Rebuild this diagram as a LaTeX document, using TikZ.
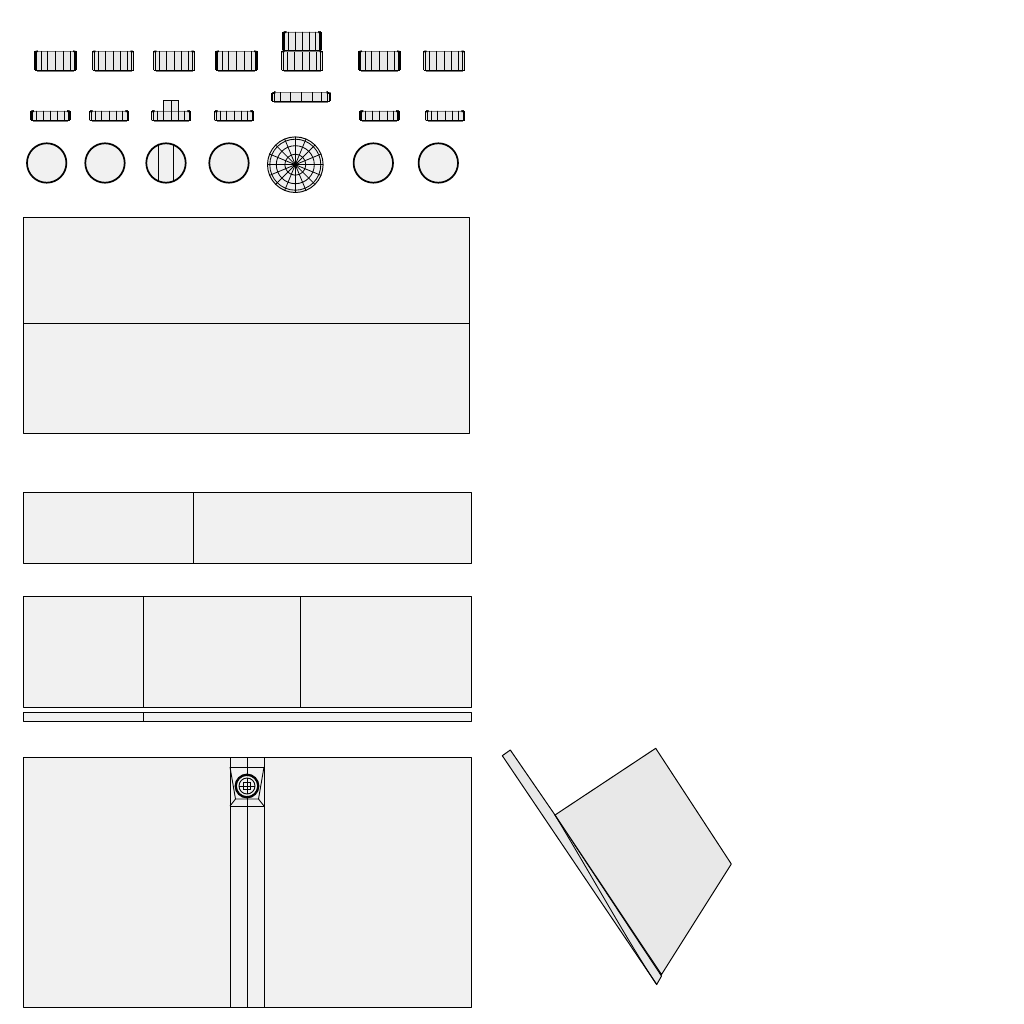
\documentclass[tikz,border=0pt]{standalone}
\usetikzlibrary{calc}
\definecolor{panelfill}{HTML}{F1F1F1}
\definecolor{knobfill}{HTML}{E8E8E8}
\tikzset{
  panel/.style={draw=black,fill=panelfill,line width=0.9pt,line join=round},
  edgeline/.style={draw=black,line width=0.9pt},
  plate/.style={draw=black,fill=knobfill,line width=1pt,line join=round},
  rib/.style={draw=black,line width=0.95pt},
  rim/.style={draw=black,line width=1.7pt},
  capline/.style={draw=black!55,line width=1.1pt},
}
% knob seen from the side: centre x, top y, bottom y, half width
\newcommand{\sideknob}[4]{%
  \fill[knobfill,rounded corners=0.8pt] (#1-#4,#2) rectangle (#1+#4,#3);
  \draw[capline] (#1-#4+2,#2+0.2) -- (#1+#4-2,#2+0.2);
  \draw[capline] (#1-#4+2,#3+0.4) -- (#1+#4-2,#3+0.4);
  \foreach \s in {-0.924,-0.707,-0.383,0,0.383,0.707,0.924}
    \draw[rib] ({#1+\s*#4},#2) -- ({#1+\s*#4},#3);
  \draw[rim] (#1-#4,#2+0.5) -- (#1-#4,#3-0.5);
  \draw[rim] (#1+#4,#2+0.5) -- (#1+#4,#3-0.5);
  \draw[rim] (#1-#4+0.6,#2+0.5) -- (#1-#4+3,#2+0.3);
  \draw[rim] (#1+#4-0.6,#2+0.5) -- (#1+#4-3,#2+0.3);
  \draw[line width=1.2pt,black] (#1-#4,#3-0.2) -- (#1+#4,#3-0.2);
}
% knob seen from above: centre x, centre y, radius
\newcommand{\faceknob}[3]{%
  \fill[panelfill] (#1,#2) circle (#3);
  \draw[draw=black,line width=1.7pt] (#1,#2) circle ({#3-0.6});
}
\begin{document}
\begin{tikzpicture}[x=1pt,y=-1pt]
\useasboundingbox (0,0) rectangle (1024,1024);
% top row of knobs
\foreach \c in {55.5,113,174,236.5,302,379.5,444}
  \sideknob{\c}{51}{71}{20.5}
\sideknob{302.3}{32}{51}{19}
% middle row
\foreach \c in {50.5,109,171,234,379.7,445}
  \sideknob{\c}{111}{120.6}{19.5}
\sideknob{301}{92.5}{101.8}{28.7}
\fill[knobfill] (163.7,100.7) rectangle (178.7,111);
\draw[rib] (163.7,111) -- (163.7,100.7) -- (178.7,100.7) -- (178.7,111);
\draw[rib] (171.2,100.7) -- (171.2,111);
% bottom row
\foreach \c in {46.7,105,166,229,373.3,438.3}
  \faceknob{\c}{163}{20.3}
\draw[rib] (158.7,144) -- (158.7,182);
\draw[rib] (173.7,144) -- (173.7,182);
% dial
\fill[panelfill] (295.3,164.7) circle (28);
\foreach \a in {0,22.5,...,157.5}
  \draw[draw=black,line width=0.8pt] ($(295.3,164.7)+(\a:28)$) -- ($(295.3,164.7)+(\a+180:28)$);
\foreach \r in {10.5,19,25.5}
  \draw[draw=black,line width=0.85pt] (295.3,164.7) circle (\r);
\draw[draw=black,line width=0.95pt] (295.3,164.7) circle (27.8);
\fill[black] (295.3,164.7) circle (2.2);
% panels
\draw[panel] (23,217) rectangle (469,433);
\draw[edgeline] (23,323) -- (469,323);
\draw[panel] (23,492) rectangle (471,563);
\draw[edgeline] (193,492) -- (193,563);
\draw[panel] (23,596) rectangle (471,707);
\draw[edgeline] (143,596) -- (143,707);
\draw[edgeline] (300,596) -- (300,707);
\draw[panel] (23,712) rectangle (471,721);
\draw[edgeline] (143,712) -- (143,721);
\draw[panel] (23,757) rectangle (471,1007);
\draw[edgeline] (230,757) -- (230,1007);
\draw[edgeline] (247,757) -- (247,1007);
\draw[edgeline] (264,757) -- (264,1007);
\draw[edgeline] (230,767) -- (264,767);
\draw[edgeline] (230,806) -- (264,806);
\draw[edgeline] (230,767) -- (235.5,799) -- (258.5,799) -- (264,767);
\draw[edgeline] (235.5,799) -- (230,806);
\draw[edgeline] (258.5,799) -- (264,806);
\draw[draw=black,line width=2.4pt] (247,786) circle (11.2);
\fill[panelfill] (247,786) circle (9.8);
\draw[draw=black,line width=0.9pt] (247,786) circle (8);
\draw[edgeline] (247,778) -- (247,794);
\draw[edgeline] (239,786) -- (255,786);
\draw[draw=black,line width=0.9pt] (243.5,782.5) rectangle (250.5,789.5);
% side view
\draw[plate] (502.3,755.7) -- (510.3,750) -- (555,815) -- (661.5,976) -- (656.7,984.5) -- cycle;
\draw[plate] (555,815) -- (655.7,748.3) -- (731.3,864) -- (661.5,974.5) -- cycle;
\draw[edgeline] (555,815) .. controls (600,890) and (630,945) .. (656.7,984.5);
\end{tikzpicture}
\end{document}
